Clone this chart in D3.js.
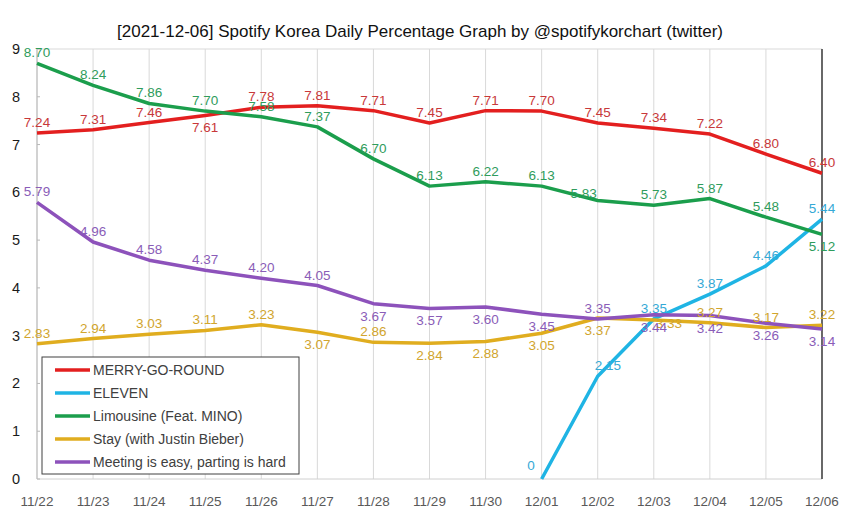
<!DOCTYPE html>
<html>
<head>
<meta charset="utf-8">
<script src="https://cdn.jsdelivr.net/npm/d3@7"></script>
<style>
  body { margin: 0; background: #fff; }
  svg { display: block; font-family: "Liberation Sans", Arial, sans-serif; }
</style>
</head>
<body>
<svg id="chart" width="850" height="532"></svg>
<script>
const dates = ["11/22", "11/23", "11/24", "11/25", "11/26", "11/27", "11/28", "11/29",
               "11/30", "12/01", "12/02", "12/03", "12/04", "12/05", "12/06"];
const yTicks = [0, 1, 2, 3, 4, 5, 6, 7, 8, 9];

const merryGoRound = [7.24, 7.31, 7.46, 7.61, 7.78, 7.81, 7.71, 7.45, 7.71, 7.70, 7.45, 7.34, 7.22, 6.80, 6.40];
const eleven = [null, null, null, null, null, null, null, null, null, 0, 2.15, 3.35, 3.87, 4.46, 5.44];
const limousine = [8.70, 8.24, 7.86, 7.70, 7.58, 7.37, 6.70, 6.13, 6.22, 6.13, 5.83, 5.73, 5.87, 5.48, 5.12];
const stay = [2.83, 2.94, 3.03, 3.11, 3.23, 3.07, 2.86, 2.84, 2.88, 3.05, 3.37, 3.33, 3.27, 3.17, 3.22];
const meeting = [5.79, 4.96, 4.58, 4.37, 4.20, 4.05, 3.67, 3.57, 3.60, 3.45, 3.35, 3.44, 3.42, 3.26, 3.14];

// where each data label sits: a=above, b=below, l=left, r=right, ar/al=above right/left
const mgrPos = ["a", "a", "a", "b", "a", "a", "a", "a", "a", "a", "a", "a", "a", "a", "a"];
const elevenPos = [null, null, null, null, null, null, null, null, null, "l", "ar", "a", "a", "a", "a"];
const limoPos = ["a", "a", "a", "a", "a", "a", "a", "a", "a", "a", "al", "a", "a", "a", "b"];
const stayPos = ["a", "a", "a", "a", "a", "b", "a", "b", "b", "b", "b", "r", "a", "a", "a"];
const meetingPos = ["a", "a", "a", "a", "a", "a", "b", "b", "b", "b", "a", "b", "b", "b", "b"];

const series = [
    { name: "MERRY-GO-ROUND", values: merryGoRound, pos: mgrPos, color: "#e31f1f", label: "#c8383a" },
    { name: "ELEVEN", values: eleven, pos: elevenPos, color: "#1fb4e4", label: "#35a9d6" },
    { name: "Limousine (Feat. MINO)", values: limousine, pos: limoPos, color: "#1b9e4c", label: "#2f9c5c" },
    { name: "Stay (with Justin Bieber)", values: stay, pos: stayPos, color: "#e0ad1f", label: "#d1a52e" },
    { name: "Meeting is easy, parting is hard", values: meeting, pos: meetingPos, color: "#8d52bb", label: "#8a5db8" }
];

let svg = d3.select("#chart");

let x = d3.scalePoint().domain(dates).range([37, 822]);
let y = d3.scaleLinear().domain([0, 9]).range([479, 49]);

// Title
svg.append("text")
    .attr("x", 420)
    .attr("y", 37)
    .attr("text-anchor", "middle")
    .attr("font-size", "17px")
    .attr("fill", "#111")
    .text("[2021-12-06] Spotify Korea Daily Percentage Graph by @spotifykorchart (twitter)");

// Vertical grid
dates.forEach(d => {
    svg.append("line")
        .attr("x1", x(d)).attr("x2", x(d))
        .attr("y1", y(9)).attr("y2", y(0))
        .attr("stroke", "#d9d9d9");
});
// top border and bottom axis
svg.append("line").attr("x1", x(dates[0])).attr("x2", x(dates[dates.length - 1]))
    .attr("y1", y(9)).attr("y2", y(9)).attr("stroke", "#d9d9d9");
svg.append("line").attr("x1", x(dates[0])).attr("x2", x(dates[dates.length - 1]))
    .attr("y1", y(0)).attr("y2", y(0)).attr("stroke", "#d0d0d0");
// left axis
svg.append("line").attr("x1", x(dates[0])).attr("x2", x(dates[0]))
    .attr("y1", y(9)).attr("y2", y(0)).attr("stroke", "#b8b8b8");
// right black line
svg.append("line").attr("x1", x(dates[dates.length - 1])).attr("x2", x(dates[dates.length - 1]))
    .attr("y1", y(9)).attr("y2", y(0)).attr("stroke", "#222").attr("stroke-width", 1.3);

// Y ticks
yTicks.forEach(t => {
    svg.append("line")
        .attr("x1", x(dates[0])).attr("x2", x(dates[0]) + 3)
        .attr("y1", y(t)).attr("y2", y(t))
        .attr("stroke", "#b8b8b8");
    svg.append("text")
        .attr("x", 20)
        .attr("y", y(t) + 5)
        .attr("text-anchor", "end")
        .attr("font-size", "14.5px")
        .attr("fill", "#1a1a1a")
        .text(t);
});

// X tick labels
dates.forEach(d => {
    svg.append("text")
        .attr("x", x(d))
        .attr("y", 506)
        .attr("text-anchor", "middle")
        .attr("font-size", "13.5px")
        .attr("fill", "#595959")
        .text(d);
});

// Lines
let line = d3.line()
    .defined(d => d.v != null)
    .x(d => x(d.date))
    .y(d => y(d.v));

series.forEach(s => {
    let pts = dates.map((date, i) => ({ date, v: s.values[i] }));
    svg.append("path")
        .datum(pts)
        .attr("fill", "none")
        .attr("stroke", s.color)
        .attr("stroke-width", 3.5)
        .attr("stroke-linejoin", "round")
        .attr("d", line);
});

// Data labels
function placeLabel(code, px, py) {
    if (code === "b") return { x: px, y: py + 17, anchor: "middle" };
    if (code === "l") return { x: px - 7, y: py - 9, anchor: "end" };
    if (code === "r") return { x: px + 2, y: py + 8, anchor: "start" };
    if (code === "ar") return { x: px - 3, y: py - 6, anchor: "start" };
    if (code === "al") return { x: px - 1, y: py - 2, anchor: "end" };
    return { x: px, y: py - 6, anchor: "middle" };
}

series.forEach(s => {
    s.values.forEach((v, i) => {
        if (v == null) return;
        let p = placeLabel(s.pos[i], x(dates[i]), y(v));
        svg.append("text")
            .attr("x", p.x)
            .attr("y", p.y)
            .attr("text-anchor", p.anchor)
            .attr("font-size", "13.5px")
            .attr("fill", s.label)
            .text(v === 0 ? "0" : v.toFixed(2));
    });
});

// Legend
let legend = svg.append("g");
legend.append("rect")
    .attr("x", 42).attr("y", 357)
    .attr("width", 257).attr("height", 117)
    .attr("fill", "#fff")
    .attr("stroke", "#404040");

series.forEach((s, i) => {
    let ly = 370 + i * 23;
    legend.append("line")
        .attr("x1", 55).attr("x2", 90)
        .attr("y1", ly).attr("y2", ly)
        .attr("stroke", s.color)
        .attr("stroke-width", 3.5);
    legend.append("text")
        .attr("x", 93)
        .attr("y", ly + 5)
        .attr("font-size", "14px")
        .attr("fill", "#404040")
        .text(s.name);
});
</script>
</body>
</html>
